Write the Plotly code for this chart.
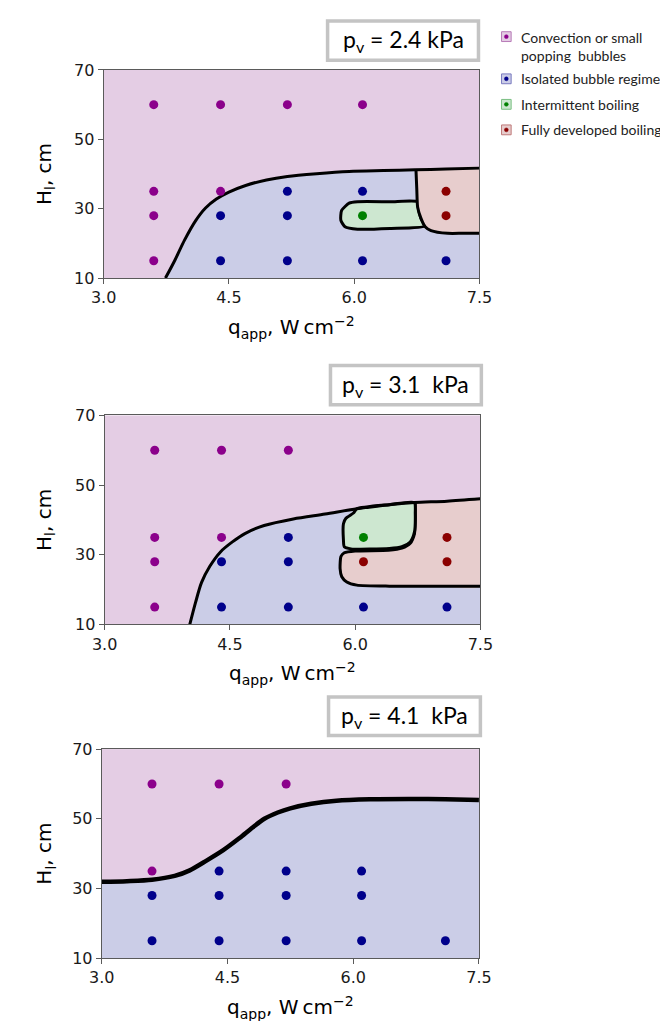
import plotly.graph_objects as go

W, H = 668, 1021

# ---------------- data ----------------
Q_TICKS = [3.0, 4.5, 6.0, 7.5]
Q_TICK_TEXT = ["3.0", "4.5", "6.0", "7.5"]
H_TICKS = [10, 30, 50, 70]
PANEL_TITLES = ["p<sub>v</sub> = 2.4 kPa", "p<sub>v</sub> = 3.1\u00a0 kPa", "p<sub>v</sub> = 4.1\u00a0 kPa"]
LEGEND_LABELS = ["Convection or small<br>popping\u00a0 bubbles", "Isolated bubble regime",
                 "Intermittent boiling", "Fully developed boiling"]

# Panel 1 (pv = 2.4 kPa) observations
P1_CONV_Q = [3.6, 4.4, 5.2, 6.1, 3.6, 4.4, 3.6, 3.6]
P1_CONV_H = [60, 60, 60, 60, 35, 35, 28, 15]
P1_ISO_Q = [5.2, 6.1, 4.4, 5.2, 4.4, 5.2, 6.1, 7.1]
P1_ISO_H = [35, 35, 28, 28, 15, 15, 15, 15]
P1_INT_Q = [6.1]
P1_INT_H = [28]
P1_FULL_Q = [7.1, 7.1]
P1_FULL_H = [35, 28]

# Panel 2 (pv = 3.1 kPa) observations
P2_CONV_Q = [3.6, 4.4, 5.2, 3.6, 4.4, 3.6, 3.6]
P2_CONV_H = [60, 60, 60, 35, 35, 28, 15]
P2_ISO_Q = [5.2, 4.4, 5.2, 4.4, 5.2, 6.1, 7.1]
P2_ISO_H = [35, 28, 28, 15, 15, 15, 15]
P2_INT_Q = [6.1]
P2_INT_H = [35]
P2_FULL_Q = [7.1, 6.1, 7.1]
P2_FULL_H = [35, 28, 28]

# Panel 3 (pv = 4.1 kPa) observations
P3_CONV_Q = [3.6, 4.4, 5.2, 3.6]
P3_CONV_H = [60, 60, 60, 35]
P3_ISO_Q = [4.4, 5.2, 6.1, 3.6, 4.4, 5.2, 6.1, 3.6, 4.4, 5.2, 6.1, 7.1]
P3_ISO_H = [35, 35, 35, 28, 28, 28, 28, 15, 15, 15, 15, 15]

# Regime boundaries
P1_BOUND_Q = [3.74, 3.85, 3.97, 4.1, 4.22, 4.35, 4.5, 4.7, 4.95, 5.2, 5.55, 5.94, 6.35, 6.73, 7.1, 7.5]
P1_BOUND_H = [10, 15, 21, 26.5, 30.2, 32.8, 34.8, 36.7, 38.3, 39.3, 40.1, 40.75, 41.0, 41.2, 41.45, 41.7]
P1_FULLZ_EDGE_Q = [6.74, 6.75, 6.76, 6.80, 6.85, 6.92, 7.12, 7.3, 7.5]
P1_FULLZ_EDGE_H = [41.2, 35.5, 30.4, 27.2, 24.8, 23.7, 22.9, 22.9, 22.9]
P1_FULLZ_TOP_Q = [7.5, 7.1, 6.74]
P1_FULLZ_TOP_H = [41.7, 41.45, 41.2]
P1_INTZ_Q = [6.76, 6.43, 6.04, 5.94, 5.85, 5.84, 5.89, 6.04, 6.43, 6.85, 6.80, 6.77, 6.76]
P1_INTZ_H = [32.0, 32.0, 32.0, 31.6, 29.5, 26.7, 24.8, 24.1, 24.3, 25.0, 27.2, 30.0, 32.0]

P2_BOUND_Q = [4.02, 4.09, 4.16, 4.26, 4.39, 4.53, 4.68, 4.91, 5.26, 5.64, 6.02, 6.41, 6.71, 7.1, 7.5]
P2_BOUND_H = [10, 16.4, 22.0, 26.7, 30.9, 33.7, 36.1, 38.4, 40.3, 41.7, 43.2, 44.4, 45.0, 45.4, 46.1]
P2_INTZ_Q = [6.02, 6.41, 6.71, 6.72, 6.71, 6.66, 6.56, 6.41, 5.95, 5.87, 5.86, 5.86, 5.89, 5.98, 6.02]
P2_INTZ_H = [43.2, 44.4, 45.0, 42.0, 36.5, 33.7, 32.3, 31.8, 31.7, 32.3, 34.2, 38.9, 40.5, 42.0, 43.2]
P2_FULLZ_EDGE_Q = [6.72, 6.72, 6.71, 6.66, 6.56, 6.4, 6.0, 5.87, 5.83, 5.82, 5.84, 5.9, 6.02, 6.41, 7.0, 7.5]
P2_FULLZ_EDGE_H = [45.0, 40.0, 36.0, 33.3, 31.9, 31.3, 31.1, 30.6, 29.5, 26.0, 23.7, 22.2, 21.3, 21.0, 21.0, 21.0]
P2_FULLZ_TOP_Q = [7.5, 7.1, 6.72]
P2_FULLZ_TOP_H = [46.1, 45.4, 45.0]

P3_BOUND_Q = [3.0, 3.3, 3.6, 3.87, 4.05, 4.25, 4.45, 4.64, 4.8, 4.94, 5.1, 5.25, 5.5, 5.8, 6.2, 6.7, 7.1, 7.5]
P3_BOUND_H = [31.9, 32.1, 32.5, 33.6, 35.2, 38.0, 41.0, 44.4, 47.5, 50.0, 51.8, 53.0, 54.3, 55.2, 55.6, 55.7, 55.6, 55.4]

# ---------------- styling ----------------
BG_CONV = "#E4CDE4"
BG_ISO = "#CBCDE7"
BG_INT = "#CDE7D0"
BG_FULL = "#E7CDCD"
C_CONV = "#8B008B"
C_ISO = "#00008B"
C_INT = "#008000"
C_FULL = "#8B0000"


def px(x):
    return x / W


def py(y):
    return 1 - y / H


PANELS = [
    dict(x=(86, 477), y=(54, 266), box=(319, 4, 476, 44)),
    dict(x=(87, 478), y=(406, 619), box=(322, 355, 479, 395)),
    dict(x=(84, 476.5), y=(746, 959), box=(320, 693, 478, 732)),
]

fig = go.Figure()


def add(trace, i):
    sfx = "" if i == 0 else str(i + 1)
    trace.update(xaxis="x" + sfx, yaxis="y" + sfx, showlegend=False, hoverinfo="skip")
    fig.add_trace(trace)


def region(q, h, color, i, outline=True, width=3):
    add(go.Scatter(x=q, y=h, mode="lines", fill="toself", fillcolor=color,
                   line=dict(color="black" if outline else "rgba(0,0,0,0)",
                             width=width if outline else 0, shape="spline", smoothing=0.6)), i)


def boundary(q, h, i, width=3, smoothing=0.8):
    add(go.Scatter(x=q, y=h, mode="lines",
                   line=dict(color="black", width=width, shape="spline", smoothing=smoothing)), i)


def dots(q, h, color, i):
    add(go.Scatter(x=q, y=h, mode="markers", marker=dict(color=color, size=9)), i)


# Panel 1
region(P1_BOUND_Q + [7.5, P1_BOUND_Q[0]], P1_BOUND_H + [10, 10], BG_ISO, 0, outline=False)
region(P1_INTZ_Q, P1_INTZ_H, BG_INT, 0)
region(P1_FULLZ_EDGE_Q + P1_FULLZ_TOP_Q, P1_FULLZ_EDGE_H + P1_FULLZ_TOP_H, BG_FULL, 0, outline=False)
boundary(P1_FULLZ_EDGE_Q, P1_FULLZ_EDGE_H, 0, smoothing=0.6)
boundary(P1_BOUND_Q, P1_BOUND_H, 0)
dots(P1_CONV_Q, P1_CONV_H, C_CONV, 0)
dots(P1_ISO_Q, P1_ISO_H, C_ISO, 0)
dots(P1_INT_Q, P1_INT_H, C_INT, 0)
dots(P1_FULL_Q, P1_FULL_H, C_FULL, 0)

# Panel 2
region(P2_BOUND_Q + [7.5, P2_BOUND_Q[0]], P2_BOUND_H + [10, 10], BG_ISO, 1, outline=False)
region(P2_FULLZ_EDGE_Q + P2_FULLZ_TOP_Q, P2_FULLZ_EDGE_H + P2_FULLZ_TOP_H, BG_FULL, 1, outline=False)
boundary(P2_FULLZ_EDGE_Q, P2_FULLZ_EDGE_H, 1, smoothing=0.6)
region(P2_INTZ_Q, P2_INTZ_H, BG_INT, 1)
boundary(P2_BOUND_Q, P2_BOUND_H, 1)
dots(P2_CONV_Q, P2_CONV_H, C_CONV, 1)
dots(P2_ISO_Q, P2_ISO_H, C_ISO, 1)
dots(P2_INT_Q, P2_INT_H, C_INT, 1)
dots(P2_FULL_Q, P2_FULL_H, C_FULL, 1)

# Panel 3
region(P3_BOUND_Q + [7.5, 3.0], P3_BOUND_H + [10, 10], BG_ISO, 2, outline=False)
boundary(P3_BOUND_Q, P3_BOUND_H, 2, width=4.5)
dots(P3_CONV_Q, P3_CONV_H, C_CONV, 2)
dots(P3_ISO_Q, P3_ISO_H, C_ISO, 2)

TICK_FONT = dict(family="DejaVu Sans", size=16, color="#1a1a1a")
axis_common = dict(showgrid=False, zeroline=False, showline=True, mirror=True,
                   linecolor="#5a5a5a", linewidth=1, ticks="outside", ticklen=5,
                   tickcolor="#5a5a5a", tickfont=TICK_FONT)

layout = dict(width=W, height=H, margin=dict(l=0, r=0, t=0, b=0),
              paper_bgcolor="white", plot_bgcolor=BG_CONV, showlegend=False)
shapes = []
annotations = []
for i, p in enumerate(PANELS):
    sfx = "" if i == 0 else str(i + 1)
    layout["xaxis" + sfx] = dict(axis_common, domain=[px(p["x"][0]), px(p["x"][1])],
                                 range=[3.0, 7.5], tickvals=Q_TICKS, ticktext=Q_TICK_TEXT,
                                 anchor="y" + sfx)
    layout["yaxis" + sfx] = dict(axis_common, domain=[py(p["y"][1]), py(p["y"][0])],
                                 range=[10, 70], tickvals=H_TICKS, anchor="x" + sfx)
    x0, y0, x1, y1 = p["box"]
    shapes.append(dict(type="rect", xref="paper", yref="paper", x0=px(x0), x1=px(x1),
                       y0=py(y1), y1=py(y0), fillcolor="white",
                       line=dict(color="#c4c4c4", width=3.5)))
    annotations.append(dict(xref="paper", yref="paper", x=px((x0 + x1) / 2), y=py((y0 + y1) / 2),
                            text=PANEL_TITLES[i], showarrow=False, xanchor="center", yanchor="middle",
                            font=dict(family="Lato", size=23, color="black")))
    cx = (p["x"][0] + p["x"][1]) / 2
    annotations.append(dict(xref="paper", yref="paper", x=px(cx), y=py(p["y"][1] + 50),
                            text="q<sub>app</sub>, W\u2009cm<sup>\u22122</sup>", showarrow=False,
                            xanchor="center", yanchor="middle",
                            font=dict(family="DejaVu Sans", size=20, color="black")))
    annotations.append(dict(xref="paper", yref="paper", x=px(25), y=py((p["y"][0] + p["y"][1]) / 2),
                            text="H<sub>l</sub>, cm", showarrow=False, textangle=-90,
                            xanchor="center", yanchor="middle",
                            font=dict(family="DejaVu Sans", size=20, color="black")))

# legend (drawn manually)
LEG_ROWS = [20, 63, 89, 115]
LEG_DOT = [C_CONV, C_ISO, C_INT, C_FULL]
LEG_FILL = [BG_CONV, BG_ISO, BG_INT, BG_FULL]
LEG_EDGE = ["#B77AB7", "#7A7ABF", "#7ABF82", "#BF7A7A"]
for k, yc in enumerate(LEG_ROWS):
    shapes.append(dict(type="rect", xref="paper", yref="paper", x0=px(500), x1=px(510),
                       y0=py(yc + 5), y1=py(yc - 5), fillcolor=LEG_FILL[k],
                       line=dict(color=LEG_EDGE[k], width=1)))
    shapes.append(dict(type="circle", xref="paper", yref="paper", x0=px(503), x1=px(507),
                       y0=py(yc + 2), y1=py(yc - 2), fillcolor=LEG_DOT[k],
                       line=dict(color=LEG_DOT[k], width=0.5)))
    annotations.append(dict(xref="paper", yref="paper", x=px(518),
                            y=py(yc - 10) if k == 0 else py(yc), text=LEGEND_LABELS[k],
                            showarrow=False, xanchor="left", align="left",
                            yanchor="top" if k == 0 else "middle",
                            font=dict(family="Lato", size=14, color="#222")))

layout["shapes"] = shapes
layout["annotations"] = annotations
fig.update_layout(**layout)
fig.write_html("out.html")
